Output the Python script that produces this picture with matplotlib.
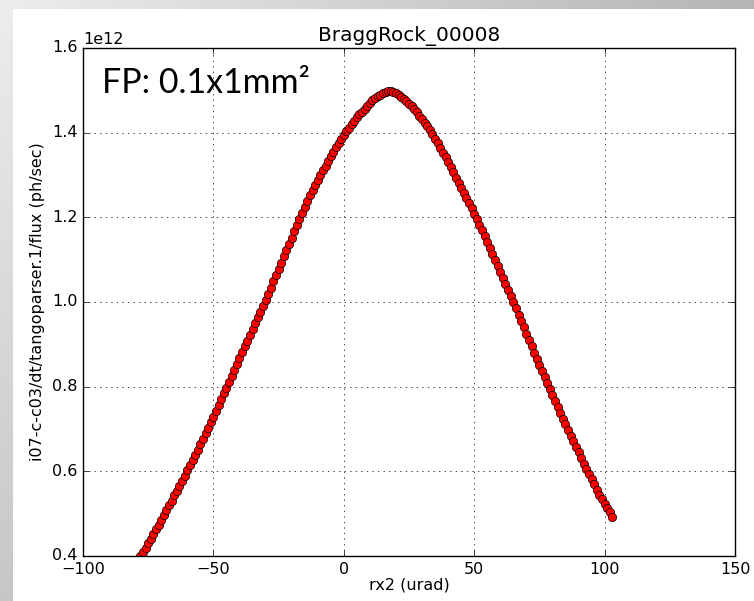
import numpy as np
import matplotlib
matplotlib.use("Agg")
import matplotlib.pyplot as plt
from matplotlib.patches import Rectangle

plt.style.use("classic")

# rx2 scan positions (urad) and measured flux (in units of 1e12 ph/sec)
rx2 = np.arange(-78, 104, 1)
flux_e12 = np.array([
    0.400, 0.410, 0.420, 0.431, 0.441, 0.452, 0.463, 0.474, 0.485, 0.497,   # -78 .. -69
    0.508, 0.520, 0.531, 0.543, 0.554, 0.566, 0.578, 0.590, 0.602, 0.614,   # -68 .. -59
    0.626, 0.639, 0.651, 0.664, 0.677, 0.690, 0.703, 0.716, 0.729, 0.743,   # -58 .. -49
    0.757, 0.770, 0.784, 0.798, 0.812, 0.826, 0.839, 0.853, 0.867, 0.881,   # -48 .. -39
    0.895, 0.908, 0.922, 0.936, 0.950, 0.964, 0.977, 0.991, 1.005, 1.019,   # -38 .. -29
    1.034, 1.049, 1.064, 1.079, 1.093, 1.108, 1.123, 1.138, 1.152, 1.167,   # -28 .. -19
    1.181, 1.196, 1.210, 1.224, 1.238, 1.252, 1.264, 1.276, 1.288, 1.300,   # -18 .. -9
    1.311, 1.322, 1.333, 1.344, 1.355, 1.365, 1.375, 1.385, 1.394, 1.403,   # -8 .. 1
    1.412, 1.420, 1.428, 1.436, 1.443, 1.450, 1.457, 1.464, 1.470, 1.476,   # 2 .. 11
    1.481, 1.486, 1.490, 1.493, 1.496, 1.498, 1.498, 1.497, 1.494, 1.490,   # 12 .. 21
    1.485, 1.480, 1.474, 1.468, 1.462, 1.455, 1.448, 1.440, 1.432, 1.424,   # 22 .. 31
    1.415, 1.406, 1.396, 1.386, 1.375, 1.364, 1.353, 1.342, 1.330, 1.318,   # 32 .. 41
    1.306, 1.294, 1.282, 1.270, 1.258, 1.246, 1.234, 1.221, 1.208, 1.195,   # 42 .. 51
    1.182, 1.169, 1.156, 1.142, 1.128, 1.113, 1.099, 1.085, 1.071, 1.057,   # 52 .. 61
    1.043, 1.029, 1.014, 1.000, 0.985, 0.970, 0.955, 0.940, 0.925, 0.910,   # 62 .. 71
    0.895, 0.880, 0.866, 0.851, 0.837, 0.822, 0.808, 0.794, 0.780, 0.766,   # 72 .. 81
    0.752, 0.738, 0.724, 0.711, 0.697, 0.684, 0.672, 0.658, 0.645, 0.631,   # 82 .. 91
    0.618, 0.605, 0.593, 0.581, 0.569, 0.557, 0.545, 0.534, 0.523, 0.513,   # 92 .. 101
    0.503, 0.493,                                                           # 102 .. 103
])
flux = flux_e12 * 1e12

W, H = 754, 601
fig = plt.figure(figsize=(W / 100, H / 100), dpi=100)

# grey slide backdrop with a white panel
gx, gy = np.meshgrid(np.linspace(0, 1, W), np.linspace(0, 1, H))
shade = 0.93 - 0.22 * gx - 0.15 * gy
bg = np.dstack([shade, shade, shade])
fig.figimage(bg, xo=0, yo=0, origin="upper", zorder=-2)
fig.patches.append(Rectangle((13 / W, 0), 1, 1 - 9 / H, transform=fig.transFigure,
                             facecolor="white", edgecolor="none", zorder=-1))

ax = fig.add_axes([83 / W, 45 / H, (735 - 83) / W, (556 - 48) / H])
ax.set_facecolor("white")
ax.plot(rx2, flux, "ro", markersize=6, markeredgewidth=0.5, markeredgecolor="k")

ax.set_xlim(-100, 150)
ax.set_ylim(0.4e12, 1.6e12)
ax.set_xticks([-100, -50, 0, 50, 100, 150])
ax.set_yticks(np.arange(0.4, 1.61, 0.2) * 1e12)
ax.tick_params(axis="both", labelsize=11.5)
ax.tick_params(axis="x", pad=4)
ax.yaxis.get_offset_text().set_fontsize(11.5)
ax.grid(True)

ax.set_title("BraggRock_00008")
ax.set_xlabel("rx2 (urad)", fontsize=11.5, labelpad=1)
ax.set_ylabel("i07-c-c03/dt/tangoparser.1/flux (ph/sec)", fontsize=11.5)

fig.text(101.7 / W, 1 - 93.3 / H, "FP: 0.1x1mm\u00b2", family=["Lato", "DejaVu Sans"],
         fontsize=24.5, ha="left", va="baseline")

fig.savefig("out.png", dpi=100, facecolor=fig.get_facecolor())
